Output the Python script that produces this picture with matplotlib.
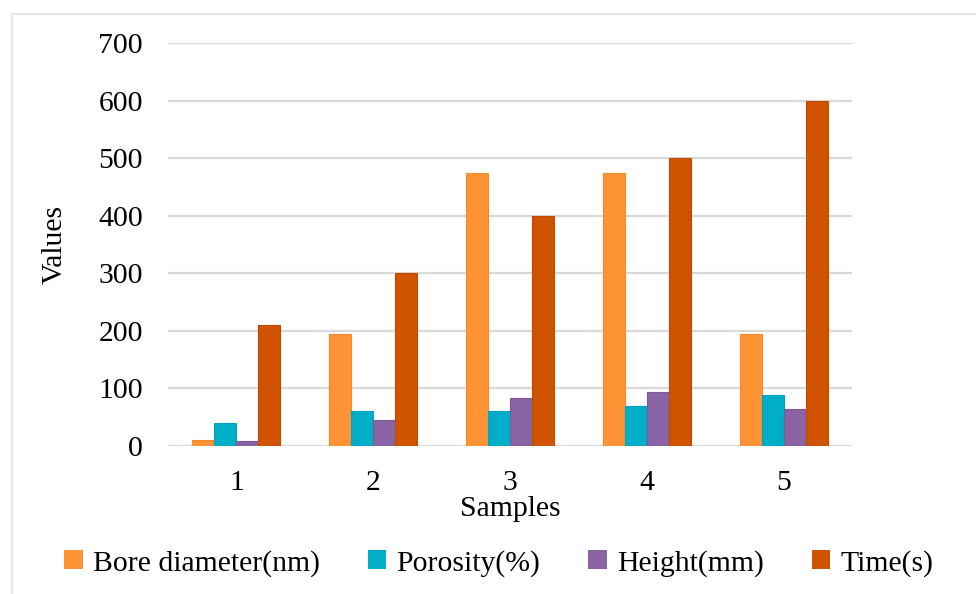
import matplotlib
matplotlib.use("Agg")
import matplotlib.pyplot as plt
from matplotlib.patches import Patch
from matplotlib.lines import Line2D
import numpy as np

samples = ["1", "2", "3", "4", "5"]
bore_diameter = [10, 195, 475, 475, 195]
porosity = [40, 60, 60, 70, 88]
height = [8, 45, 83, 93, 65]
time_s = [210, 300, 400, 500, 600]
series_names = ["Bore diameter(nm)", "Porosity(%)", "Height(mm)", "Time(s)"]
colors = ["#FF9436", "#00AEC7", "#8A63A5", "#CF5300"]
edge_colors = ["#F58A2C", "#00A3BC", "#7F589A", "#C04A00"]

plt.rcParams["font.family"] = ["Liberation Serif", "DejaVu Serif"]
FS = 21.4

fig = plt.figure(figsize=(9.76, 5.94), dpi=100)
ax = fig.add_axes([168 / 976, 1 - 446 / 594, (852 - 168) / 976, (446 - 43) / 594])

x = np.arange(len(samples))
w = 0.161
series = [bore_diameter, porosity, height, time_s]
for i, (vals, c, ec) in enumerate(zip(series, colors, edge_colors)):
    ax.bar(x + (i - 1.5) * w, vals, width=w, color=c, edgecolor=ec,
           linewidth=0.8, zorder=3, label=series_names[i])

ax.set_xlim(-0.5, 4.5)
ax.set_ylim(0, 700)
ax.set_yticks(range(0, 701, 100))
ax.set_xticks(x)
ax.set_xticklabels(samples)
ax.yaxis.grid(True, color="#D9D9D9", linewidth=1.6, zorder=0)
ax.set_axisbelow(True)
for s in ax.spines.values():
    s.set_visible(False)
ax.tick_params(axis="both", length=0, labelsize=FS)
ax.tick_params(axis="y", pad=18)
ax.tick_params(axis="x", pad=17)
ax.set_xlabel("Samples", fontsize=FS, labelpad=0)
ax.set_ylabel("Values", fontsize=FS, labelpad=22)

handles = [Patch(facecolor=c, edgecolor="none") for c in colors]
fig.legend(handles, series_names, loc="center", bbox_to_anchor=(0.511, 0.052),
           ncol=4, frameon=False, fontsize=FS, handlelength=0.62,
           handleheight=0.62, handletextpad=0.34, columnspacing=1.62)

# light outer frame
fy = 1 - 14 / 594
fx = 12 / 976
fig.add_artist(Line2D([fx, fx], [0, fy], transform=fig.transFigure,
                      color="#E6E6E6", linewidth=1.5))
fig.add_artist(Line2D([fx, 1], [fy, fy], transform=fig.transFigure,
                      color="#E6E6E6", linewidth=1.5))

fig.savefig("out.png", dpi=100)
